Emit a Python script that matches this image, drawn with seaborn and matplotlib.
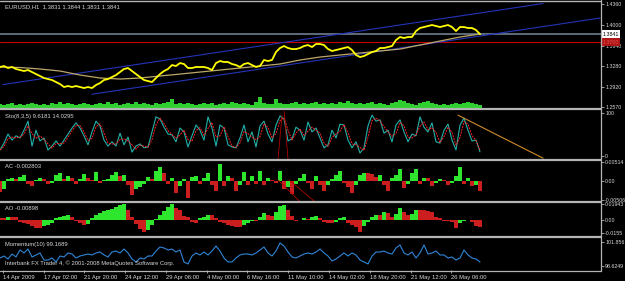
import numpy as np
import matplotlib
matplotlib.use("Agg")
import matplotlib.pyplot as plt
import seaborn as sns
from matplotlib.lines import Line2D

sns.set_theme(style="dark")
plt.rcParams['font.family'] = ['Liberation Sans', 'DejaVu Sans']

# ---------------- data ----------------
STEP = 4          # horizontal spacing of one sample on the time axis
MA_STEP = 20

price = [1.3268, 1.3285, 1.3250, 1.3268, 1.3233, 1.3215, 1.3198, 1.3215, 1.3180, 1.3145,
         1.3111, 1.3076, 1.3058, 1.3041, 1.3006, 1.2971, 1.2919, 1.2936, 1.2919, 1.2936,
         1.2919, 1.2901, 1.2919, 1.2901, 1.2954, 1.2988, 1.3041, 1.3058, 1.3093, 1.3128,
         1.3180, 1.3233, 1.3250, 1.3198, 1.3145, 1.3093, 1.3041, 1.3023, 1.3006, 1.3076,
         1.3145, 1.3198, 1.3233, 1.3302, 1.3285, 1.3337, 1.3320, 1.3250, 1.3250, 1.3268,
         1.3268, 1.3268, 1.3250, 1.3215, 1.3337, 1.3372, 1.3355, 1.3355, 1.3320, 1.3302,
         1.3268, 1.3320, 1.3337, 1.3302, 1.3268, 1.3285, 1.3390, 1.3372, 1.3390, 1.3529,
         1.3599, 1.3634, 1.3599, 1.3581, 1.3581, 1.3599, 1.3634, 1.3651, 1.3616, 1.3669,
         1.3669, 1.3651, 1.3581, 1.3547, 1.3564, 1.3581, 1.3599, 1.3616, 1.3564, 1.3477,
         1.3442, 1.3459, 1.3494, 1.3529, 1.3547, 1.3599, 1.3599, 1.3616, 1.3634, 1.3738,
         1.3791, 1.3773, 1.3791, 1.3791, 1.3895, 1.3948, 1.3965, 1.3983, 1.4000, 1.3983,
         1.3965, 1.3983, 1.4000, 1.3965, 1.3895, 1.3965, 1.3965, 1.3948, 1.3948, 1.3913,
         1.3841]

ma = [1.3268, 1.3259, 1.3233, 1.3198, 1.3128, 1.3076, 1.3058, 1.3076, 1.3111, 1.3145,
      1.3180, 1.3215, 1.3250, 1.3285, 1.3320, 1.3390, 1.3442, 1.3477, 1.3512, 1.3547,
      1.3581, 1.3651, 1.3721, 1.3791, 1.3843]

volume = [400, 300, 400, 500, 300, 400, 300, 400, 500, 400,
          300, 400, 300, 500, 400, 600, 400, 500, 400, 300,
          400, 500, 400, 300, 400, 500, 400, 600, 400, 500,
          300, 400, 500, 400, 600, 400, 500, 400, 300, 500,
          400, 500, 600, 900, 400, 500, 400, 500, 400, 300,
          400, 500, 400, 500, 300, 400, 500, 400, 600, 500,
          400, 500, 400, 300, 600, 1100, 500, 400, 400, 900,
          500, 400, 400, 500, 600, 400, 500, 400, 500, 600,
          400, 500, 400, 500, 400, 600, 500, 700, 500, 400,
          500, 400, 500, 600, 400, 500, 400, 300, 500, 600,
          800, 700, 500, 400, 300, 500, 600, 700, 500, 400,
          300, 400, 300, 400, 500, 400, 500, 600, 500, 400,
          300]

stoch_main = [14, 30, 51, 37, 47, 42, 60, 81, 23, 60,
              35, 42, 14, 23, 35, 23, 37, 51, 65, 77,
              65, 47, 26, 56, 81, 70, 37, 23, 33, 23,
              53, 26, 44, 9, 23, 28, 19, 21, 56, 91,
              86, 67, 51, 49, 33, 65, 56, 21, 47, 72,
              60, 37, 91, 65, 23, 72, 65, 26, 21, 19,
              42, 72, 33, 56, 21, 70, 81, 51, 33, 72,
              93, 86, 35, 40, 67, 60, 37, 79, 56, 65,
              42, 19, 26, 60, 42, 74, 72, 37, 19, 33,
              7, 19, 70, 95, 81, 84, 53, 60, 33, 72,
              84, 56, 33, 51, 47, 91, 67, 56, 77, 33,
              30, 60, 74, 37, 14, 72, 88, 60, 35, 37,
              9.6181]

stoch_signal = [14, 22, 40, 44, 42, 44, 51, 70, 52, 41,
                47, 38, 28, 18, 29, 29, 30, 44, 58, 71,
                71, 56, 36, 41, 68, 75, 53, 30, 28, 28,
                38, 40, 35, 26, 16, 25, 23, 20, 38, 73,
                88, 76, 59, 50, 41, 49, 60, 38, 34, 59,
                66, 48, 64, 78, 44, 47, 68, 45, 23, 20,
                30, 57, 52, 44, 38, 45, 75, 66, 42, 52,
                82, 89, 60, 37, 53, 63, 48, 58, 67, 60,
                53, 30, 22, 43, 51, 58, 73, 54, 28, 26,
                20, 13, 44, 82, 88, 82, 68, 56, 46, 52,
                78, 70, 44, 42, 49, 69, 79, 61, 66, 55,
                31, 45, 67, 55, 25, 43, 80, 74, 47, 36,
                14.0295]

ac = [-0.0030, -0.0022, 0.0005, 0.0008, 0.0005, 0.0011, 0.0016, -0.0008, -0.0014, 0.0003,
      0.0008, 0.0005, -0.0008, -0.0005, 0.0016, 0.0022, 0.0005, 0.0014, 0.0008, -0.0008,
      0.0005, 0.0019, 0.0008, 0.0003, 0.0024, -0.0005, 0.0003, 0.0005, 0.0016, 0.0024,
      0.0014, 0.0016, -0.0011, -0.0038, -0.0022, -0.0016, -0.0008, 0.0011, 0.0005, 0.0027,
      0.0038, 0.0022, -0.0008, 0.0008, -0.0032, -0.0014, 0.0005, -0.0046, 0.0011, 0.0014,
      -0.0008, 0.0008, 0.0022, -0.0011, -0.0027, 0.0046, -0.0014, 0.0014, 0.0008, -0.0027,
      -0.0011, 0.0024, -0.0011, 0.0014, -0.0008, 0.0027, -0.0011, 0.0008, 0.0003, -0.0005,
      0.0027, -0.0022, -0.0016, -0.0035, -0.0008, 0.0008, 0.0019, -0.0005, -0.0022, 0.0014,
      -0.0011, -0.0027, -0.0011, 0.0005, 0.0016, 0.0027, -0.0005, -0.0016, -0.0032, -0.0011,
      0.0016, 0.0022, 0.0022, 0.0019, 0.0011, 0.0016, -0.0011, -0.0027, 0.0008, 0.0016,
      0.0032, -0.0019, -0.0008, 0.0022, 0.0032, -0.0008, 0.0008, 0.0008, -0.0014, -0.0005,
      0.0005, 0.0003, -0.0011, -0.0005, 0.0014, 0.0038, -0.0008, 0.0008, -0.0014, -0.0011,
      -0.0028]

ao = [0.0024, 0.0024, 0.0036, 0.0036, 0.0036, -0.0024, -0.0036, -0.0048, -0.0072, -0.0096,
      -0.0096, -0.0072, -0.0060, -0.0036, 0.0024, 0.0036, 0.0048, 0.0060, 0.0036, -0.0012,
      -0.0036, -0.0060, -0.0048, 0.0024, 0.0060, 0.0084, 0.0108, 0.0120, 0.0132, 0.0156,
      0.0180, 0.0192, 0.0120, 0.0036, -0.0048, -0.0108, -0.0144, -0.0120, -0.0060, 0.0012,
      0.0060, 0.0108, 0.0156, 0.0192, 0.0144, 0.0120, 0.0048, 0.0036, -0.0024, -0.0036,
      0.0024, 0.0036, 0.0060, 0.0060, 0.0024, -0.0024, -0.0036, -0.0060, -0.0072, -0.0084,
      -0.0084, -0.0060, -0.0036, -0.0012, -0.0012, 0.0036, 0.0084, 0.0060, 0.0048, 0.0096,
      0.0168, 0.0180, 0.0120, 0.0048, -0.0012, 0.0000, 0.0024, 0.0012, 0.0036, 0.0048,
      0.0024, -0.0024, -0.0036, -0.0036, -0.0024, 0.0024, 0.0036, -0.0036, -0.0060, -0.0084,
      -0.0144, -0.0072, -0.0024, 0.0036, 0.0060, 0.0060, 0.0096, 0.0084, 0.0036, 0.0072,
      0.0144, 0.0096, 0.0060, 0.0072, 0.0120, 0.0120, 0.0120, 0.0108, 0.0096, 0.0036,
      0.0024, -0.0012, -0.0012, -0.0024, -0.0096, -0.0036, -0.0012, 0.0000, -0.0024, -0.0072,
      -0.00898]

momentum = [99.70, 99.97, 99.57, 100.24, 99.84, 100.78, 100.38, 100.91, 99.84, 100.11,
            100.38, 99.43, 99.43, 99.70, 99.17, 99.97, 99.84, 100.38, 100.24, 99.70,
            99.97, 100.11, 100.24, 100.11, 100.38, 100.51, 100.11, 99.84, 100.51, 100.64,
            100.38, 100.91, 100.38, 99.57, 99.17, 99.70, 99.57, 99.97, 99.97, 100.64,
            101.18, 101.05, 100.78, 100.91, 100.51, 100.78, 99.17, 98.90, 99.97, 100.38,
            100.11, 100.51, 100.11, 100.64, 101.32, 100.64, 99.70, 99.17, 99.17, 99.70,
            100.11, 100.24, 100.24, 100.11, 100.38, 100.78, 101.18, 100.38, 99.97, 100.64,
            101.72, 101.32, 100.51, 99.84, 99.70, 99.97, 100.24, 100.38, 100.24, 100.51,
            100.91, 100.38, 99.97, 99.30, 99.57, 99.97, 100.38, 99.97, 100.38, 100.11,
            99.43, 99.17, 98.90, 99.97, 100.51, 100.51, 100.64, 100.38, 100.24, 101.05,
            101.45, 100.38, 100.11, 100.51, 99.70, 100.38, 101.45, 100.24, 100.38, 100.64,
            100.11, 100.11, 99.70, 99.84, 99.43, 99.70, 100.78, 100.11, 99.70, 99.57,
            99.1689]

time_labels = ["14 Apr 2009", "17 Apr 02:00", "21 Apr 20:00", "24 Apr 12:00",
               "29 Apr 06:00", "4 May 00:00", "6 May 16:00", "11 May 10:00",
               "14 May 02:00", "18 May 20:00", "21 May 12:00", "26 May 06:00"]
TICK0, TICK_STEP = 2.7, 40.8

price_ticks = [1.4360, 1.4000, 1.3640, 1.3280, 1.2920, 1.2570]
bid_price = 1.3841
red_level = 1.3700
channel_upper = ([3, 543], [1.2962, 1.4375])
channel_lower = ([92, 600], [1.2793, 1.4122])
stoch_trend = ([458, 543], [95, -5])
stoch_red_lines = [([284, 288], [110, -8]), ([282, 278], [95, -8])]
ac_red_lines = [([278, 300], [0.0003, -0.0056]), ([289, 315], [0.0003, -0.0056])]

# ---------------- figure ----------------
W, H = 625, 281
fig = plt.figure(figsize=(W / 100, H / 100), dpi=100, facecolor="black")
RIGHT = 601
GRID = "#b4b4b4"
TXT = "#d8d8d8"
FS = 4.2
YFS = 3.75


def make_ax(top, bottom, face="black"):
    ax = fig.add_axes([0, (H - bottom) / H, RIGHT / W, (bottom - top) / H])
    ax.set_facecolor(face)
    ax.grid(False)
    for s in ax.spines.values():
        s.set_visible(False)
    ax.set_xlim(0, RIGHT)
    ax.set_xticks([])
    ax.yaxis.tick_right()
    ax.tick_params(axis="y", colors=GRID, labelcolor=TXT, labelsize=YFS,
                   length=2, width=0.6, pad=1.0, direction="out")
    ax.set_xlabel("")
    ax.set_ylabel("")
    return ax


x_p = np.arange(len(price)) * STEP
x_ma = np.arange(len(ma)) * MA_STEP

# volume (behind main)
ax_vol = make_ax(1, 108)
ax_vol.bar(np.arange(len(volume)) * STEP, volume, width=STEP, color="#2fcf2f", linewidth=0)
ax_vol.set_ylim(0, 10700)
ax_vol.set_yticks([])

# main price panel
ax_m = make_ax(1, 108, face="none")
ax_m.set_ylim(1.2553, 1.4419)
ax_m.axhline(bid_price, color="#5f6b78", lw=1.4, zorder=1)
ax_m.axhline(red_level, color="#c80000", lw=0.8, zorder=1)
ax_m.plot(*channel_upper, color="#2433b8", lw=0.8)
ax_m.plot(*channel_lower, color="#2433b8", lw=0.8)
sns.lineplot(x=x_ma, y=ma, ax=ax_m, color="#bda86a", linewidth=0.9, legend=False)
sns.lineplot(x=x_p, y=price, ax=ax_m, color="#ffff00", linewidth=1.3, legend=False)
ax_m.set_yticks(price_ticks)
ax_m.set_yticklabels([f"{v:.4f}" for v in price_ticks])
ax_m.text(1.002, bid_price, f"{bid_price:.4f}", transform=ax_m.get_yaxis_transform(),
          fontsize=YFS, color="black", va="center", ha="left", clip_on=False, zorder=5,
          bbox=dict(facecolor="white", edgecolor="none", pad=1.2))
ax_m.text(1.002, red_level, f"{red_level:.4f}", transform=ax_m.get_yaxis_transform(),
          fontsize=YFS, color="#e05050", va="center", ha="left", clip_on=False, zorder=5,
          bbox=dict(facecolor="#b01515", edgecolor="none", pad=1.2))
ax_m.set_xlabel(""); ax_m.set_ylabel("")

# stochastic
ax_s = make_ax(110.5, 159)
ax_s.set_ylim(-7, 105.8)
sns.lineplot(x=x_p, y=stoch_main, ax=ax_s, color="#20b2aa", linewidth=0.8, legend=False)
sns.lineplot(x=x_p, y=stoch_signal, ax=ax_s, color="#ff2020", linewidth=0.7,
             linestyle=(0, (2, 1)), legend=False)
ax_s.plot(*stoch_trend, color="#d08a28", lw=0.8)
for lx, ly in stoch_red_lines:
    ax_s.plot(lx, ly, color="#b00000", lw=0.6)
ax_s.set_yticks([100, 0])
ax_s.set_yticklabels(["100", "0"])
ax_s.set_xlabel(""); ax_s.set_ylabel("")


def updown_colors(vals):
    cols = []
    for i, v in enumerate(vals):
        prev = vals[i - 1] if i > 0 else v
        cols.append("#2ee62e" if v > prev else "#cc1e1e")
    return cols


# AC
ax_ac = make_ax(161, 201)
ax_ac.set_ylim(-0.0054, 0.0054)
ax_ac.bar(x_p, ac, width=STEP, color=updown_colors(ac), linewidth=0)
for lx, ly in ac_red_lines:
    ax_ac.plot(lx, ly, color="#b00000", lw=0.6)
ax_ac.set_yticks([0.00514, 0.0, -0.00506])
ax_ac.set_yticklabels(["0.00514", "0.00", "-0.00506"])

# AO
ax_ao = make_ax(203, 236.5)
ax_ao.set_ylim(-0.0198, 0.0204)
ax_ao.bar(x_p, ao, width=STEP, color=updown_colors(ao), linewidth=0)
ax_ao.set_yticks([0.01943, 0.0, -0.0155])
ax_ao.set_yticklabels(["0.01943", "0.00", "-0.0155"])

# Momentum
ax_mo = make_ax(238, 270)
ax_mo.set_ylim(98.09, 102.39)
sns.lineplot(x=x_p, y=momentum, ax=ax_mo, color="#2f86d8", linewidth=0.8, legend=False)
ax_mo.set_yticks([101.856, 98.6249])
ax_mo.set_yticklabels(["101.856", "98.6249"])
ax_mo.set_xticks([TICK0 + TICK_STEP * k for k in range(len(time_labels))])
ax_mo.set_xticklabels(time_labels)
ax_mo.tick_params(axis="x", colors=GRID, labelcolor=TXT, labelsize=FS, length=2.5,
                  width=0.6, pad=1.2, direction="out", bottom=True)
for lab in ax_mo.get_xticklabels():
    lab.set_ha("left")
ax_mo.set_xlabel(""); ax_mo.set_ylabel("")

# ---------------- frame / separators ----------------
def fy(py):
    return 1 - py / H


for py, lw in [(0.5, 1.0), (109, 1.6), (160, 1.6), (202, 1.6), (237.3, 1.6), (270.5, 0.9)]:
    fig.add_artist(Line2D([0, RIGHT / W], [fy(py), fy(py)], color=GRID, lw=lw))
fig.add_artist(Line2D([RIGHT / W, RIGHT / W], [fy(0), fy(271)], color=GRID, lw=0.9))

# ---------------- texts ----------------
labels = [("EURUSD,H1  1.3831 1.3844 1.3831 1.3841", 6.5),
          ("Sto(8,3,5) 9.6181 14.0295", 116.5),
          ("AC -0.002803", 167),
          ("AO -0.00898", 209),
          ("Momentum(10) 99.1689", 244.5),
          ("Interbank FX Trader 4, \u00a9 2001-2008 MetaQuotes Software Corp.", 263)]
for s, py in labels:
    fig.text(5 / W, fy(py), s, color=TXT, fontsize=FS, va="center", ha="left")

fig.savefig("out.png", dpi=100, facecolor="black")
